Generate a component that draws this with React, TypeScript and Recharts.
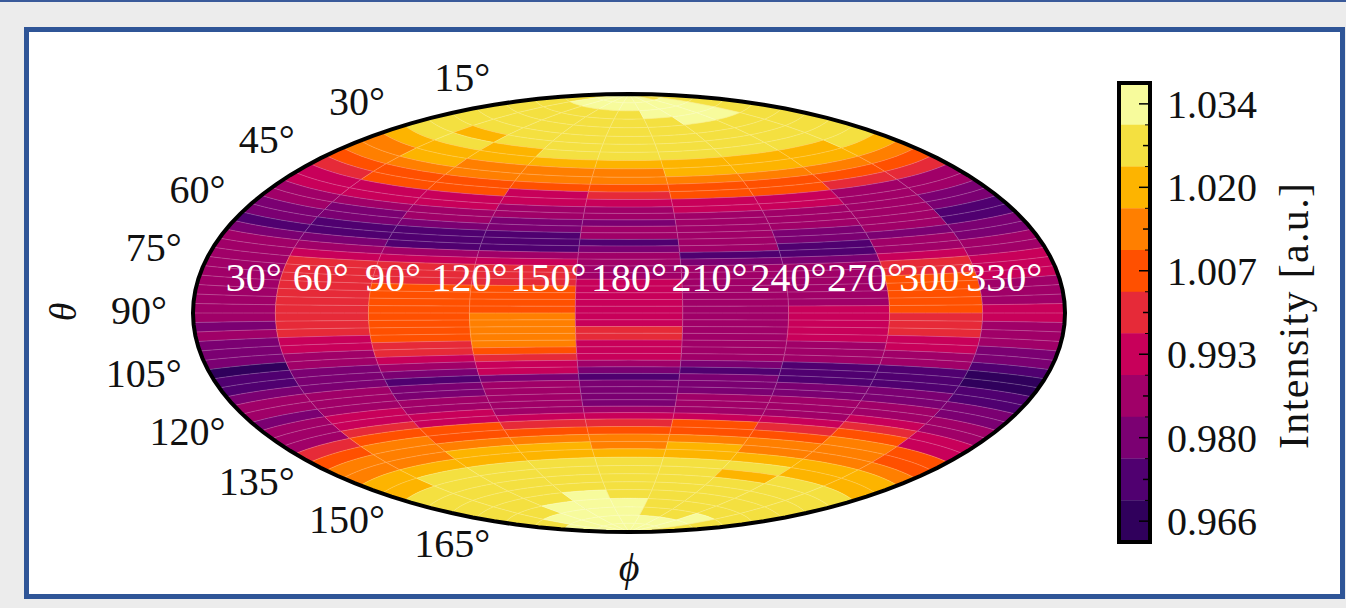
import { Bar, BarChart, Cell, Scatter, ScatterChart, XAxis, YAxis } from "recharts";

// colour levels, bottom of the colour bar first
const LEVEL_COLORS = [
  "#30005c", "#500070", "#7b0072", "#a00068", "#c8005a", "#e62a38",
  "#ff5000", "#ff7f00", "#fdb400", "#f4e040", "#f7fb9c",
];
const LEVEL_VALUES = [
  "0.966", "0.973", "0.980", "0.986", "0.993", "1.000",
  "1.007", "1.014", "1.020", "1.027", "1.034",
];
const COLORBAR_LABELS = ["0.966", "0.980", "0.993", "1.007", "1.020", "1.034"];

// bin edges in degrees
const LON_EDGES = [-180, -140, -100, -60, -20, 20, 60, 100, 140, 180];
const LAT_EDGES = [
  90, 85.5, 81.5, 77.5, 73.5, 69.5, 66, 62.5, 59, 55.5, 52, 49, 46, 43, 40, 37.5,
  35, 32.5, 30, 27.5, 25, 22.5, 20, 17.5, 15, 12.5, 10, 7.5, 5, 2.5, 0,
  -2.5, -5, -7.5, -10, -12.5, -15, -17.5, -20, -22.5, -25, -27.5, -30, -32.5, -35,
  -37.5, -40, -43, -46, -49, -52, -55.5, -59, -62.5, -66, -69.5, -73.5, -77.5,
  -81.5, -85.5, -90,
];

// one row per theta bin, one level per phi bin
const LEVEL_ROWS = [
  [9, 10, 10, 10, 10, 10, 10, 9, 9],
  [9, 10, 10, 10, 10, 10, 10, 10, 9],
  [9, 9, 9, 9, 9, 10, 10, 10, 9],
  [9, 9, 9, 9, 9, 9, 10, 10, 9],
  [9, 9, 9, 9, 9, 9, 9, 9, 9],
  [9, 9, 9, 9, 9, 9, 9, 9, 9],
  [9, 8, 9, 9, 9, 9, 9, 9, 9],
  [9, 9, 8, 9, 9, 9, 9, 9, 9],
  [8, 8, 8, 8, 8, 8, 8, 8, 9],
  [7, 8, 7, 7, 7, 8, 8, 8, 8],
  [7, 7, 7, 7, 7, 7, 7, 7, 7],
  [6, 6, 6, 6, 6, 6, 6, 6, 6],
  [5, 6, 6, 4, 5, 6, 6, 5, 5],
  [4, 4, 4, 4, 4, 4, 4, 3, 3],
  [4, 4, 4, 3, 3, 4, 4, 3, 3],
  [3, 3, 3, 3, 3, 3, 3, 3, 2],
  [3, 2, 3, 2, 2, 3, 3, 3, 2],
  [2, 2, 2, 2, 3, 3, 3, 3, 1],
  [2, 1, 1, 1, 3, 3, 2, 3, 1],
  [1, 1, 1, 1, 1, 3, 2, 2, 2],
  [2, 2, 1, 1, 2, 3, 1, 3, 2],
  [3, 3, 3, 3, 3, 1, 1, 3, 3],
  [3, 4, 4, 4, 3, 2, 2, 4, 3],
  [3, 5, 5, 5, 3, 3, 3, 5, 4],
  [3, 5, 5, 5, 3, 3, 3, 5, 4],
  [3, 5, 5, 5, 4, 3, 3, 6, 4],
  [3, 5, 6, 6, 4, 3, 3, 6, 3],
  [3, 5, 6, 6, 4, 3, 3, 6, 3],
  [3, 5, 6, 6, 4, 3, 3, 6, 3],
  [3, 5, 6, 6, 4, 3, 4, 6, 4],
  [3, 5, 6, 7, 4, 3, 4, 5, 4],
  [2, 5, 6, 7, 4, 3, 4, 5, 3],
  [3, 5, 6, 7, 5, 3, 4, 5, 3],
  [2, 4, 6, 7, 5, 3, 4, 4, 3],
  [2, 4, 5, 7, 4, 3, 3, 4, 2],
  [2, 3, 5, 6, 4, 3, 3, 3, 2],
  [0, 3, 4, 5, 4, 3, 3, 3, 1],
  [1, 2, 3, 4, 3, 2, 1, 1, 0],
  [1, 2, 2, 4, 2, 1, 1, 1, 0],
  [2, 2, 1, 2, 1, 2, 1, 1, 1],
  [3, 3, 2, 3, 2, 2, 2, 2, 1],
  [3, 3, 2, 3, 2, 2, 2, 2, 2],
  [2, 3, 3, 3, 2, 3, 3, 3, 2],
  [3, 4, 3, 3, 2, 3, 3, 3, 3],
  [3, 4, 4, 3, 3, 3, 3, 4, 3],
  [3, 5, 4, 4, 4, 4, 4, 5, 4],
  [5, 6, 6, 5, 5, 6, 5, 6, 4],
  [6, 7, 6, 6, 6, 6, 6, 7, 6],
  [7, 7, 7, 7, 7, 7, 7, 7, 6],
  [7, 7, 8, 8, 7, 8, 7, 7, 7],
  [8, 8, 8, 8, 8, 8, 8, 8, 8],
  [8, 9, 9, 9, 9, 9, 9, 8, 8],
  [9, 9, 9, 9, 9, 9, 8, 9, 9],
  [9, 9, 9, 9, 9, 9, 9, 9, 9],
  [9, 9, 9, 9, 9, 9, 9, 9, 9],
  [9, 9, 9, 10, 9, 9, 9, 9, 9],
  [9, 9, 10, 10, 10, 9, 9, 9, 9],
  [9, 10, 10, 10, 10, 9, 9, 10, 9],
  [10, 10, 10, 10, 10, 10, 10, 10, 9],
  [10, 10, 10, 10, 10, 10, 10, 10, 9],
];

const PHI_TICKS = [30, 60, 90, 120, 150, 180, 210, 240, 270, 300, 330];
const THETA_TICKS = [15, 30, 45, 60, 75, 90, 105, 120, 135, 150, 165];

const FONT = "'Liberation Serif', serif";
const X_MAX = 2 * Math.SQRT2;
const Y_MAX = Math.SQRT2;
const PLOT = { left: 193, top: 94, width: 872, height: 438 };
const PX_X = PLOT.width / (2 * X_MAX);
const PX_Y = PLOT.height / (2 * Y_MAX);

function hammer(lon: number, lat: number) {
  const l = (lon * Math.PI) / 360;
  const p = (lat * Math.PI) / 180;
  const z = Math.sqrt(1 + Math.cos(p) * Math.cos(l));
  return { x: (X_MAX * Math.cos(p) * Math.sin(l)) / z, y: (Y_MAX * Math.sin(p)) / z };
}

function edge(lon0: number, lon1: number, lat: number) {
  const pts = [];
  for (let i = 0; i <= 8; i++) pts.push(hammer(lon0 + ((lon1 - lon0) * i) / 8, lat));
  return pts;
}

const cells = LEVEL_ROWS.flatMap((row, r) =>
  row.map((level, c) => {
    const top = edge(LON_EDGES[c], LON_EDGES[c + 1], LAT_EDGES[r]);
    const bottom = edge(LON_EDGES[c], LON_EDGES[c + 1], LAT_EDGES[r + 1]);
    const center = hammer((LON_EDGES[c] + LON_EDGES[c + 1]) / 2, (LAT_EDGES[r] + LAT_EDGES[r + 1]) / 2);
    return { ...center, level, top, bottom };
  }),
);

const outline: { x: number; y: number }[] = [];
for (let lat = 90; lat >= -90; lat -= 3) outline.push(hammer(-180, lat));
for (let lat = -90; lat <= 90; lat += 3) outline.push(hammer(180, lat));

const phiLabels = PHI_TICKS.map((t) => ({ ...hammer(t - 180, 0), label: `${t}°` }));
const thetaLabels = THETA_TICKS.map((t) => ({ ...hammer(-180, 90 - t), label: `${t}°` }));

function CellShape(props: any) {
  const { cx, cy, payload } = props;
  const px = (p: { x: number; y: number }) =>
    `${cx + (p.x - payload.x) * PX_X},${cy - (p.y - payload.y) * PX_Y}`;
  const topLine = payload.top.map(px).join(" ");
  const first = payload.top[0];
  const last = payload.bottom[0];
  return (
    <g>
      <polygon
        points={[...payload.top, ...[...payload.bottom].reverse()].map(px).join(" ")}
        fill={LEVEL_COLORS[payload.level]}
        stroke={LEVEL_COLORS[payload.level]}
        strokeWidth={0.4}
      />
      <polyline points={topLine} fill="none" stroke="#fff" strokeOpacity={0.24} strokeWidth={0.9} />
      <polyline points={`${px(first)} ${px(last)}`} fill="none" stroke="#fff" strokeOpacity={0.3} strokeWidth={0.8} />
    </g>
  );
}

function PhiLabel(props: any) {
  return (
    <text x={props.cx} y={props.cy - 22} textAnchor="middle" fontFamily={FONT} fontSize={40} fill="#fff">
      {props.payload.label}
    </text>
  );
}

function ThetaLabel(props: any) {
  const { cx, cy, payload } = props;
  return (
    <text x={cx - 26} y={cy + 11 - payload.y * 16} textAnchor="end" fontFamily={FONT} fontSize={40} fill="#111">
      {payload.label}
    </text>
  );
}

function ColorbarTick(props: any) {
  const { y, payload } = props;
  const major = COLORBAR_LABELS.includes(payload.value);
  return (
    <g>
      <line x1={41} x2={major ? 30 : 34} y1={y} y2={y} stroke="#000" strokeWidth={1.5} />
      <line x1={41} x2={36} y1={y + 21} y2={y + 21} stroke="#000" strokeWidth={1} />
      {major && (
        <text x={58} y={y + 14} fontFamily={FONT} fontSize={40} fill="#111">
          {payload.value}
        </text>
      )}
    </g>
  );
}

const colorbarData = LEVEL_VALUES.map((value, i) => ({ value, span: 1, level: i })).reverse();

export default function App() {
  return (
    <div style={{ position: "absolute", left: 0, top: 0, width: 1346, height: 608, background: "#ececec", overflow: "hidden" }}>
      <div style={{ position: "absolute", left: 0, top: 0, width: 1346, height: 2, background: "#3a5a9a" }} />
      <div
        style={{
          position: "absolute", left: 24, top: 27, width: 1321, height: 572,
          boxSizing: "border-box", border: "5px solid #2f5597", background: "#fff",
        }}
      />
      <div style={{ position: "absolute", left: 0, top: 0 }}>
        <ScatterChart
          width={1346}
          height={608}
          margin={{ left: PLOT.left, top: PLOT.top, right: 1346 - PLOT.left - PLOT.width, bottom: 608 - PLOT.top - PLOT.height }}
        >
          <XAxis type="number" dataKey="x" domain={[-X_MAX, X_MAX]} hide />
          <YAxis type="number" dataKey="y" domain={[-Y_MAX, Y_MAX]} hide />
          <Scatter data={cells} shape={CellShape} isAnimationActive={false} />
          <Scatter
            data={outline}
            line={{ stroke: "#000", strokeWidth: 4 }}
            shape={() => <g />}
            isAnimationActive={false}
          />
          <Scatter data={phiLabels} shape={PhiLabel} isAnimationActive={false} />
          <Scatter data={thetaLabels} shape={ThetaLabel} isAnimationActive={false} />
          <text x={629} y={581} textAnchor="middle" fontFamily={FONT} fontStyle="italic" fontSize={40} fill="#111">
            ϕ
          </text>
          <text
            transform="translate(76 312) rotate(-90)"
            textAnchor="middle"
            fontFamily={FONT}
            fontStyle="italic"
            fontSize={38}
            fill="#111"
          >
            θ
          </text>
        </ScatterChart>
      </div>
      {/* colour bar fill */}
      <div style={{ position: "absolute", left: 1119, top: 83 }}>
        <BarChart
          layout="vertical"
          width={31}
          height={459}
          data={colorbarData}
          barCategoryGap={0}
          margin={{ left: 0, top: 0, right: 0, bottom: 0 }}
        >
          <XAxis type="number" domain={[0, 1]} hide />
          <YAxis type="category" dataKey="value" hide />
          <Bar dataKey="span" isAnimationActive={false}>
            {colorbarData.map((d) => (
              <Cell key={d.value} fill={LEVEL_COLORS[d.level]} />
            ))}
          </Bar>
        </BarChart>
      </div>
      {/* frame, ticks and labels on top of the fill */}
      <div style={{ position: "absolute", left: 1109, top: 73 }}>
        <BarChart
          layout="vertical"
          width={237}
          height={489}
          data={colorbarData}
          barCategoryGap={0}
          margin={{ left: 10, top: 10, right: 0, bottom: 20 }}
        >
          <XAxis type="number" domain={[0, 1]} hide />
          <YAxis
            type="category"
            dataKey="value"
            orientation="right"
            width={196}
            interval={0}
            axisLine={false}
            tickLine={false}
            tick={ColorbarTick}
          />
          <Bar dataKey="span" fill="none" isAnimationActive={false} />
          <rect x={10} y={10} width={31} height={459} fill="none" stroke="#000" strokeWidth={4} />
          <text
            transform="translate(199 243) rotate(-90)"
            textAnchor="middle"
            fontFamily={FONT}
            fontSize={42}
            textLength={266}
            lengthAdjust="spacing"
            fill="#111"
          >
            Intensity [a.u.]
          </text>
        </BarChart>
      </div>
    </div>
  );
}
